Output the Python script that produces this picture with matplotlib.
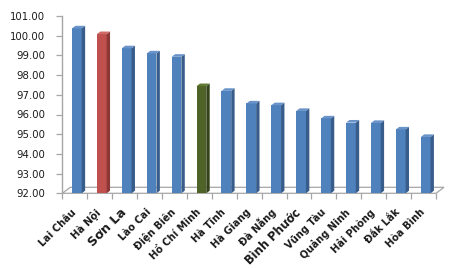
import matplotlib
matplotlib.use('Agg')
from matplotlib import pyplot as plt
from matplotlib.patches import Polygon
from matplotlib.transforms import ScaledTranslation

provinces = ['Lai Châu', 'Hà Nội', 'Sơn La', 'Lào Cai', 'Điện Biên', 'Hồ Chí Minh',
             'Hà Tĩnh', 'Hà Giang', 'Đà Nẵng', 'Bình Phước', 'Vũng Tàu',
             'Quảng Ninh', 'Hải Phòng', 'Đắk Lắk', 'Hòa Bình']
scores = [100.37, 100.08, 99.36, 99.10, 98.93, 97.44, 97.20, 96.56, 96.47,
          96.18, 95.80, 95.59, 95.57, 95.24, 94.86]
label_sizes = [7.1, 7.1, 9.2, 7.1, 7.1, 7.1, 7.1, 7.1, 7.1, 8.3, 7.1, 7.1, 7.1, 7.1, 7.1]

blue = ('#4f81bd', '#385d8a', '#6a93c9')
red = ('#c0504d', '#8c3836', '#d06a67')
green = ('#4f6228', '#34421a', '#617a33')
colors = [blue] * 15
colors[1] = red
colors[5] = green

y_min, y_max = 92, 101

fig = plt.figure(figsize=(4.51, 2.68), dpi=100)
W, H = 451, 268
ax = fig.add_axes([62.3 / W, (H - 193.3) / H, (436 - 62.3) / W, (193.3 - 16) / H])
ax.set_xlim(-0.5, 14.5)
ax.set_ylim(y_min, y_max)

# pixel -> data conversions for the fake 3D depth
px_x = 15 / (436 - 62.3)
px_y = (y_max - y_min) / (193.3 - 16)
fdx, fdy = 8 * px_x, 6 * px_y   # floor depth
bdx, bdy = 3.4 * px_x, 2.6 * px_y  # bar depth

# floor
floor = Polygon([(-0.5, y_min), (14.5, y_min), (14.5 + fdx, y_min + fdy), (-0.5 + fdx, y_min + fdy)],
                closed=True, facecolor='white', edgecolor='#a6a6a6', lw=0.9, clip_on=False, zorder=1)
ax.add_patch(floor)

bw = 0.39
for i, (v, c) in enumerate(zip(scores, colors)):
    x0 = i - 0.5 + 0.39
    x1 = x0 + bw
    ax.bar(x0, v - y_min, bottom=y_min, width=bw, align='edge', color=c[0], zorder=3, lw=0)
    side = Polygon([(x1, y_min), (x1 + bdx, y_min + bdy), (x1 + bdx, v + bdy), (x1, v)],
                   closed=True, facecolor=c[1], lw=0, zorder=3, clip_on=False)
    top = Polygon([(x0, v), (x1, v), (x1 + bdx, v + bdy), (x0 + bdx, v + bdy)],
                  closed=True, facecolor=c[2], lw=0, zorder=3, clip_on=False)
    ax.add_patch(side)
    ax.add_patch(top)

for s in ['top', 'right']:
    ax.spines[s].set_visible(False)
ax.spines['left'].set_color('#a6a6a6')
ax.spines['bottom'].set_visible(False)
ax.spines['left'].set_linewidth(1.0)

ax.set_yticks(range(y_min, y_max + 1))
ax.set_yticklabels(['%.2f' % t for t in range(y_min, y_max + 1)], fontsize=7.3, color='#1a1a1a')
ax.tick_params(axis='y', length=4, width=0.9, color='#a6a6a6', pad=8.5)

ax.set_xticks([i + 0.5 for i in range(-1, 15)], minor=True)
ax.set_xticks(range(15))
ax.set_xticklabels(provinces, rotation=45, ha='right', va='center', rotation_mode='anchor',
                   fontweight='bold', color='#1a1a1a')
shift = ScaledTranslation(2 / 100, 0, fig.dpi_scale_trans)
for lbl, fs in zip(ax.get_xticklabels(), label_sizes):
    lbl.set_fontsize(fs)
    lbl.set_transform(lbl.get_transform() + shift)
ax.tick_params(axis='x', which='major', length=0, pad=12.5)
ax.tick_params(axis='x', which='minor', length=4, width=0.9, color='#a6a6a6')

plt.savefig('out.png', dpi=100)
